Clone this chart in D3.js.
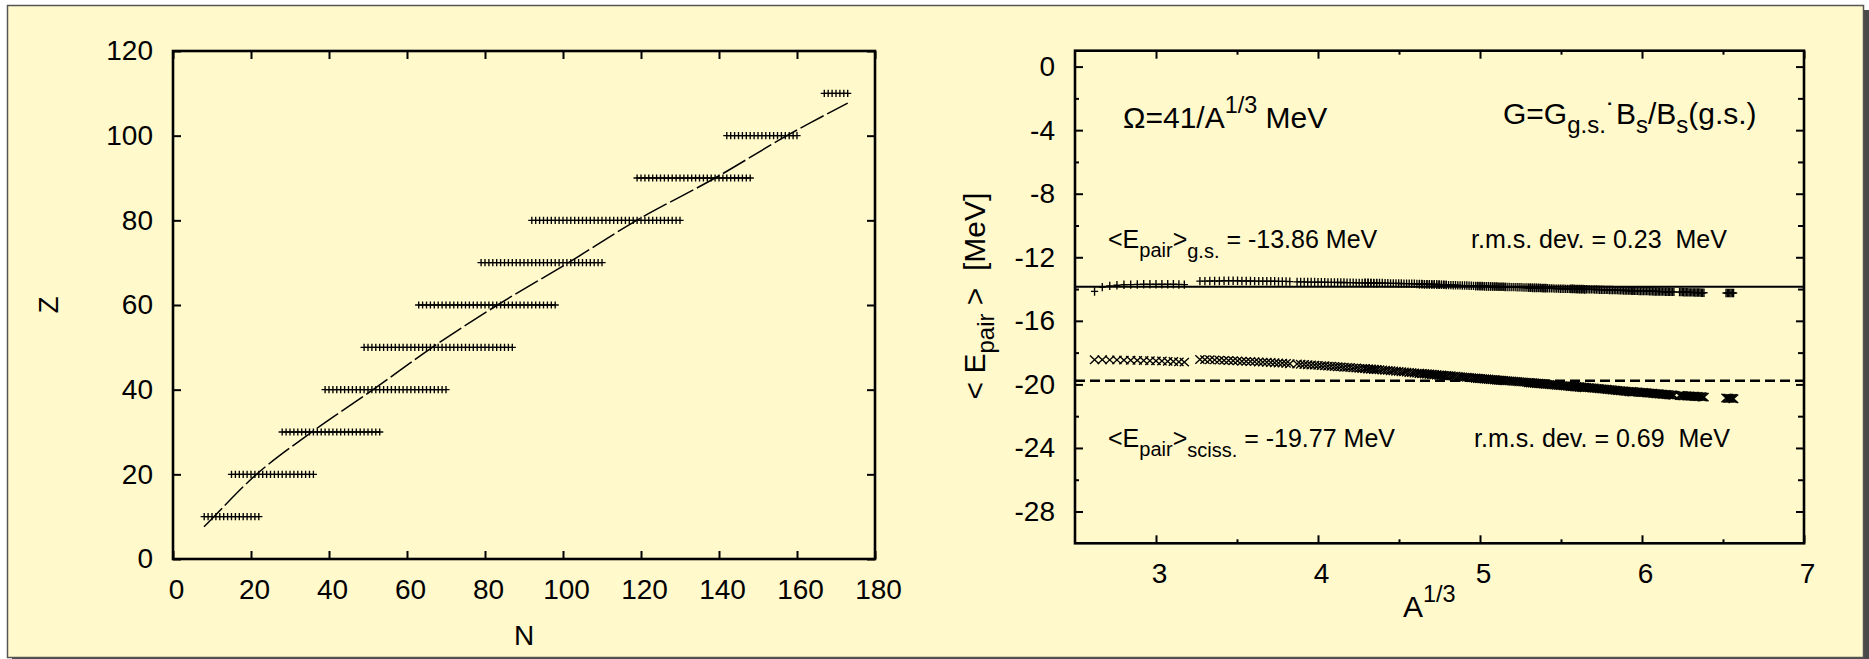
<!DOCTYPE html>
<html><head><meta charset="utf-8">
<script src="https://cdn.jsdelivr.net/npm/d3@7"></script>
<style>
html,body{margin:0;padding:0;background:#fff;}
svg{display:block;font-family:"Liberation Sans",Arial,Helvetica,sans-serif;}
text{white-space:pre;}
</style></head><body>
<svg id="chart" width="1869" height="659"></svg>
<script>
// ---------------- DATA ----------------
// Left panel: nuclei rows (proton number Z) and the neutron-number span of each row
const zRows  = [10, 20, 30, 40, 50, 60, 70, 80, 90, 100, 110];
const nFirst = [ 8, 15, 28, 39, 49, 63, 79, 92, 119, 142, 167];
const nLast  = [22, 36, 53, 70, 87, 98, 110, 130, 148, 160, 173];

// Left panel: beta-stability line
const stabN = [7.95, 10.5, 21.4, 35.6, 51.3, 66.5, 83.2, 101.4, 118.9, 139.0, 157.4, 173.0];
const stabZ = [7.6, 10, 20, 30, 40, 50, 60, 70, 80, 90, 100, 107.7];

// Right panel: <E_pair> at ground state, one value per nucleus (rows as above)
const epairGS_Z10 = [-14.15,-13.88,-13.80,-13.76,-13.73,-13.72,-13.71,-13.70,-13.70,-13.70,-13.70,-13.70,-13.70,-13.71,-13.72];
const epairGS_Z20 = [-13.50,-13.50,-13.49,-13.49,-13.49,-13.48,-13.48,-13.48,-13.48,-13.49,-13.49,-13.49,-13.50,-13.50,-13.50,-13.51,-13.51,-13.51,-13.52,-13.52,-13.52,-13.53];
const epairGS_Z30 = [-13.55,-13.55,-13.55,-13.56,-13.56,-13.56,-13.57,-13.57,-13.57,-13.58,-13.58,-13.58,-13.59,-13.59,-13.59,-13.60,-13.60,-13.60,-13.61,-13.61,-13.61,-13.62,-13.62,-13.62,-13.63,-13.63];
const epairGS_Z40 = [-13.60,-13.60,-13.61,-13.61,-13.62,-13.62,-13.62,-13.63,-13.63,-13.64,-13.64,-13.64,-13.65,-13.65,-13.66,-13.66,-13.66,-13.67,-13.67,-13.68,-13.68,-13.68,-13.69,-13.69,-13.70,-13.70,-13.70,-13.71,-13.71,-13.72,-13.72,-13.72];
const epairGS_Z50 = [-13.70,-13.70,-13.71,-13.71,-13.72,-13.72,-13.72,-13.73,-13.73,-13.74,-13.74,-13.75,-13.75,-13.75,-13.76,-13.76,-13.77,-13.77,-13.78,-13.78,-13.78,-13.79,-13.79,-13.80,-13.80,-13.80,-13.81,-13.81,-13.82,-13.82,-13.82,-13.83,-13.83,-13.84,-13.84,-13.85,-13.85,-13.85,-13.86];
const epairGS_Z60 = [-13.82,-13.82,-13.83,-13.83,-13.83,-13.84,-13.84,-13.84,-13.85,-13.85,-13.85,-13.86,-13.86,-13.86,-13.87,-13.87,-13.87,-13.88,-13.88,-13.88,-13.89,-13.89,-13.89,-13.90,-13.90,-13.90,-13.91,-13.91,-13.91,-13.92,-13.92,-13.92,-13.92,-13.93,-13.93,-13.93];
const epairGS_Z70 = [-13.92,-13.92,-13.93,-13.93,-13.93,-13.94,-13.94,-13.94,-13.95,-13.95,-13.95,-13.96,-13.96,-13.96,-13.97,-13.97,-13.97,-13.98,-13.98,-13.98,-13.99,-13.99,-13.99,-14.00,-14.00,-14.00,-14.01,-14.01,-14.01,-14.02,-14.02,-14.03];
const epairGS_Z80 = [-13.98,-13.98,-13.99,-13.99,-13.99,-14.00,-14.00,-14.00,-14.01,-14.01,-14.01,-14.02,-14.02,-14.02,-14.03,-14.03,-14.03,-14.04,-14.04,-14.04,-14.05,-14.05,-14.05,-14.06,-14.06,-14.06,-14.07,-14.07,-14.07,-14.08,-14.08,-14.08,-14.09,-14.09,-14.09,-14.10,-14.10,-14.10,-14.11];
const epairGS_Z90 = [-14.10,-14.10,-14.11,-14.11,-14.11,-14.12,-14.12,-14.12,-14.13,-14.13,-14.13,-14.13,-14.14,-14.14,-14.14,-14.15,-14.15,-14.15,-14.15,-14.16,-14.16,-14.16,-14.16,-14.17,-14.17,-14.17,-14.17,-14.18,-14.18,-14.18];
const epairGS_Z100 = [-14.19,-14.19,-14.19,-14.20,-14.20,-14.20,-14.20,-14.21,-14.21,-14.21,-14.21,-14.22,-14.22,-14.22,-14.22,-14.22,-14.23,-14.23,-14.23];
const epairGS_Z110 = [-14.25,-14.25,-14.25,-14.25,-14.25,-14.25,-14.25];

// Right panel: <E_pair> at scission, one value per nucleus
const epairSc_Z10 = [-18.45,-18.45,-18.46,-18.46,-18.47,-18.48,-18.49,-18.50,-18.51,-18.52,-18.53,-18.55,-18.56,-18.58,-18.60];
const epairSc_Z20 = [-18.43,-18.44,-18.45,-18.46,-18.47,-18.49,-18.50,-18.51,-18.52,-18.54,-18.55,-18.56,-18.57,-18.59,-18.60,-18.61,-18.62,-18.64,-18.65,-18.66,-18.68,-18.70];
const epairSc_Z30 = [-18.72,-18.73,-18.75,-18.76,-18.78,-18.79,-18.80,-18.82,-18.83,-18.85,-18.86,-18.87,-18.89,-18.90,-18.92,-18.93,-18.94,-18.96,-18.97,-18.99,-19.00,-19.01,-19.03,-19.04,-19.06,-19.07];
const epairSc_Z40 = [-19.00,-19.02,-19.03,-19.05,-19.06,-19.08,-19.09,-19.11,-19.12,-19.14,-19.15,-19.17,-19.18,-19.20,-19.21,-19.23,-19.25,-19.26,-19.28,-19.29,-19.31,-19.32,-19.34,-19.35,-19.37,-19.38,-19.40,-19.41,-19.43,-19.44,-19.46,-19.48];
const epairSc_Z50 = [-19.30,-19.31,-19.33,-19.34,-19.35,-19.36,-19.38,-19.39,-19.40,-19.41,-19.43,-19.44,-19.45,-19.46,-19.48,-19.49,-19.50,-19.51,-19.53,-19.54,-19.55,-19.56,-19.58,-19.59,-19.60,-19.61,-19.63,-19.64,-19.65,-19.66,-19.68,-19.69,-19.70,-19.71,-19.73,-19.74,-19.75,-19.76,-19.78];
const epairSc_Z60 = [-19.62,-19.63,-19.64,-19.65,-19.66,-19.67,-19.68,-19.69,-19.70,-19.71,-19.72,-19.73,-19.74,-19.75,-19.76,-19.77,-19.78,-19.79,-19.80,-19.81,-19.82,-19.83,-19.84,-19.85,-19.86,-19.87,-19.88,-19.89,-19.90,-19.91,-19.92,-19.93,-19.94,-19.95,-19.96,-19.98];
const epairSc_Z70 = [-19.90,-19.91,-19.92,-19.93,-19.94,-19.95,-19.96,-19.97,-19.98,-19.99,-20.00,-20.01,-20.02,-20.03,-20.04,-20.05,-20.06,-20.07,-20.08,-20.09,-20.10,-20.11,-20.12,-20.13,-20.14,-20.15,-20.16,-20.17,-20.18,-20.19,-20.20,-20.22];
const epairSc_Z80 = [-20.10,-20.11,-20.12,-20.13,-20.14,-20.15,-20.16,-20.17,-20.18,-20.19,-20.20,-20.21,-20.22,-20.23,-20.24,-20.25,-20.26,-20.27,-20.28,-20.29,-20.30,-20.31,-20.32,-20.33,-20.34,-20.35,-20.36,-20.37,-20.38,-20.39,-20.40,-20.41,-20.42,-20.43,-20.44,-20.45,-20.46,-20.47,-20.48];
const epairSc_Z90 = [-20.45,-20.46,-20.47,-20.47,-20.48,-20.49,-20.50,-20.51,-20.51,-20.52,-20.53,-20.54,-20.55,-20.55,-20.56,-20.57,-20.58,-20.59,-20.59,-20.60,-20.61,-20.62,-20.63,-20.63,-20.64,-20.65,-20.66,-20.67,-20.67,-20.68];
const epairSc_Z100 = [-20.70,-20.70,-20.71,-20.71,-20.72,-20.72,-20.73,-20.73,-20.74,-20.74,-20.75,-20.75,-20.76,-20.76,-20.77,-20.77,-20.78,-20.79,-20.80];
const epairSc_Z110 = [-20.86,-20.87,-20.87,-20.88,-20.88,-20.89,-20.90];

const meanGS = -13.86;
const meanSciss = -19.77;

// Tick values / labels
const xTicksL = [0, 20, 40, 60, 80, 100, 120, 140, 160, 180];
const yTicksL = [0, 20, 40, 60, 80, 100, 120];
const xTicksR = [3, 4, 5, 6, 7];
const xMinorR = [3.5, 4.5, 5.5, 6.5];
const yTicksR = [0, -4, -8, -12, -16, -20, -24, -28];
const yMinorR = [-2, -6, -10, -14, -18, -22, -26];

// ---------------- DRAW ----------------
const svg = d3.select('#chart');
const FONT = '"Liberation Sans",Arial,Helvetica,sans-serif';

// panel background + shadow
svg.append('rect').attr('x', 12).attr('y', 10).attr('width', 1857).attr('height', 652).attr('fill', '#4a4a4a');
svg.append('rect').attr('x', 7.5).attr('y', 5.5).attr('width', 1856).attr('height', 652)
  .attr('fill', '#FFF9CC').attr('stroke', '#555').attr('stroke-width', 1.5);

const gsRows = [epairGS_Z10, epairGS_Z20, epairGS_Z30, epairGS_Z40, epairGS_Z50, epairGS_Z60, epairGS_Z70, epairGS_Z80, epairGS_Z90, epairGS_Z100, epairGS_Z110];
const scRows = [epairSc_Z10, epairSc_Z20, epairSc_Z30, epairSc_Z40, epairSc_Z50, epairSc_Z60, epairSc_Z70, epairSc_Z80, epairSc_Z90, epairSc_Z100, epairSc_Z110];

const nuclei = [];
zRows.forEach((z, i) => {
  d3.range(nFirst[i], nLast[i] + 1).forEach((n, j) => {
    nuclei.push({ n, z, gs: gsRows[i][j], sc: scRows[i][j] });
  });
});

function styleAxis(g, showText, dx) {
  g.select('.domain').remove();
  g.attr('font-size', 28).attr('font-family', FONT);
  g.selectAll('.tick line').attr('stroke', '#000').attr('stroke-width', 2);
  g.selectAll('.tick text').attr('fill', '#000').attr('dx', dx || 0);
  if (!showText) g.selectAll('.tick text').remove();
}

function rich(parent, x, y, size, parts, anchor) {
  const t = parent.append('text').attr('x', x).attr('y', y)
    .attr('font-size', size).attr('font-family', FONT).attr('fill', '#000')
    .attr('text-anchor', anchor || 'start');
  let cur = 0;
  parts.forEach(p => {
    let off = 0, fs = size;
    if (p.sub) { off = p.subOff != null ? p.subOff : size * 0.34; fs = size * 0.8; }
    if (p.sup) { off = -size * 0.5; fs = size * 0.78; }
    t.append('tspan').attr('dy', off - cur).attr('font-size', fs).text(p.t);
    cur = off;
  });
  return t;
}

// ---------- Left panel ----------
const xL = d3.scaleLinear().domain([0, 180]).range([173, 875]);
const yL = d3.scaleLinear().domain([0, 120]).range([559, 51]);
const gL = svg.append('g');

gL.append('g').attr('transform', `translate(0,${yL(0)})`)
  .call(d3.axisBottom(xL).tickValues(xTicksL).tickSize(-8).tickPadding(20).tickFormat(d => String(d)))
  .call(g => styleAxis(g, true, 3));
gL.append('g').attr('transform', `translate(0,${yL(120)})`)
  .call(d3.axisTop(xL).tickValues(xTicksL).tickSize(-8))
  .call(g => styleAxis(g, false));
gL.append('g').attr('transform', `translate(${xL(0)},0)`)
  .call(d3.axisLeft(yL).tickValues(yTicksL).tickSize(-8).tickPadding(20).tickFormat(d => String(d)))
  .call(g => styleAxis(g, true));
gL.append('g').attr('transform', `translate(${xL(180)},0)`)
  .call(d3.axisRight(yL).tickValues(yTicksL).tickSize(-8))
  .call(g => styleAxis(g, false));

// stability line
const stab = stabN.map((n, i) => [n, stabZ[i]]);
gL.append('path').datum(stab)
  .attr('d', d3.line().x(d => xL(d[0])).y(d => yL(d[1])).curve(d3.curveCatmullRom))
  .attr('fill', 'none').attr('stroke', '#000').attr('stroke-width', 1.5)
  .attr('stroke-dasharray', '26,4');

// nuclei markers (+)
const plusL = 'M-3.6,0H3.6M0,-3.6V3.6';
gL.append('g').selectAll('path').data(nuclei).join('path')
  .attr('transform', d => `translate(${xL(d.n)},${yL(d.z)})`)
  .attr('d', plusL).attr('stroke', '#000').attr('stroke-width', 1.35).attr('fill', 'none');

gL.append('rect').attr('x', xL(0)).attr('y', yL(120)).attr('width', xL(180) - xL(0)).attr('height', yL(0) - yL(120))
  .attr('fill', 'none').attr('stroke', '#000').attr('stroke-width', 2.6);

gL.append('text').attr('x', (xL(0) + xL(180)) / 2).attr('y', 645).attr('text-anchor', 'middle')
  .attr('font-size', 28).attr('font-family', FONT).text('N');
gL.append('text').attr('transform', 'translate(58,305) rotate(-90)').attr('text-anchor', 'middle')
  .attr('font-size', 28).attr('font-family', FONT).text('Z');

// ---------- Right panel ----------
const xR = d3.scaleLinear().domain([2.5, 7]).range([1075, 1804]);
const yR = d3.scaleLinear().domain([-30, 1]).range([543.3, 50.7]);
const gR = svg.append('g');

gR.append('g').attr('transform', `translate(0,${yR(-30)})`)
  .call(d3.axisBottom(xR).tickValues(xTicksR).tickSize(-8).tickPadding(20).tickFormat(d => String(d)))
  .call(g => styleAxis(g, true, 3));
gR.append('g').attr('transform', `translate(0,${yR(-30)})`)
  .call(d3.axisBottom(xR).tickValues(xMinorR).tickSize(-4))
  .call(g => styleAxis(g, false));
gR.append('g').attr('transform', `translate(0,${yR(1)})`)
  .call(d3.axisTop(xR).tickValues(xTicksR).tickSize(-8))
  .call(g => styleAxis(g, false));
gR.append('g').attr('transform', `translate(0,${yR(1)})`)
  .call(d3.axisTop(xR).tickValues(xMinorR).tickSize(-4))
  .call(g => styleAxis(g, false));
gR.append('g').attr('transform', `translate(${xR(2.5)},0)`)
  .call(d3.axisLeft(yR).tickValues(yTicksR).tickSize(-8).tickPadding(20).tickFormat(d => String(d)))
  .call(g => styleAxis(g, true));
gR.append('g').attr('transform', `translate(${xR(2.5)},0)`)
  .call(d3.axisLeft(yR).tickValues(yMinorR).tickSize(-4))
  .call(g => styleAxis(g, false));
gR.append('g').attr('transform', `translate(${xR(7)},0)`)
  .call(d3.axisRight(yR).tickValues(yTicksR).tickSize(-8))
  .call(g => styleAxis(g, false));
gR.append('g').attr('transform', `translate(${xR(7)},0)`)
  .call(d3.axisRight(yR).tickValues(yMinorR).tickSize(-6))
  .call(g => styleAxis(g, false));

// mean lines
gR.append('line').attr('x1', xR(2.5)).attr('x2', xR(7)).attr('y1', yR(meanGS)).attr('y2', yR(meanGS))
  .attr('stroke', '#000').attr('stroke-width', 2);
gR.append('line').attr('x1', xR(2.5)).attr('x2', xR(7)).attr('y1', yR(meanSciss)).attr('y2', yR(meanSciss))
  .attr('stroke', '#000').attr('stroke-width', 2.4).attr('stroke-dasharray', '10,5');

// markers
const plusR = 'M-3.6,0H3.6M0,-4.2V4.2';
const crossR = 'M-4.6,-4.2L4.6,4.2M-4.6,4.2L4.6,-4.2';
const A13 = d => Math.cbrt(d.n + d.z);
gR.append('g').selectAll('path').data(nuclei).join('path')
  .attr('transform', d => `translate(${xR(A13(d))},${yR(d.gs)})`)
  .attr('d', plusR).attr('stroke', '#000').attr('stroke-width', 1.35).attr('fill', 'none');
gR.append('g').selectAll('path').data(nuclei).join('path')
  .attr('transform', d => `translate(${xR(A13(d))},${yR(d.sc)})`)
  .attr('d', crossR).attr('stroke', '#000').attr('stroke-width', 1.35).attr('fill', 'none');

gR.append('rect').attr('x', xR(2.5)).attr('y', yR(1)).attr('width', xR(7) - xR(2.5)).attr('height', yR(-30) - yR(1))
  .attr('fill', 'none').attr('stroke', '#000').attr('stroke-width', 2.6);

// axis titles
rich(gR, 1403, 616.7, 30, [{ t: 'A' }, { t: '1/3', sup: true }]);
const yl = gR.append('g').attr('transform', 'translate(985,296) rotate(-90)');
rich(yl, 0, 0, 30, [{ t: '< E' }, { t: 'pair', sub: true, subOff: 9 }, { t: ' >  [MeV]' }], 'middle');

// annotations
rich(gR, 1123, 127.7, 30, [{ t: 'Ω=41/A' }, { t: '1/3', sup: true }, { t: ' MeV' }]);
rich(gR, 1503, 124.3, 30, [{ t: 'G=G' }, { t: 'g.s.', sub: true, subOff: 9 }, { t: '˙B' }, { t: 's', sub: true, subOff: 9 }, { t: '/B' }, { t: 's', sub: true, subOff: 9 }, { t: '(g.s.)' }]);
rich(gR, 1108, 248.3, 25, [{ t: '<E' }, { t: 'pair', sub: true, subOff: 8.5 }, { t: '>' }, { t: 'g.s.', sub: true, subOff: 9.5 }, { t: ' = -13.86 MeV' }]);
rich(gR, 1471, 248.3, 25, [{ t: 'r.m.s. dev. = 0.23  MeV' }]);
rich(gR, 1108, 447.3, 25, [{ t: '<E' }, { t: 'pair', sub: true, subOff: 8.5 }, { t: '>' }, { t: 'sciss.', sub: true, subOff: 9.5 }, { t: ' = -19.77 MeV' }]);
rich(gR, 1474, 447.3, 25, [{ t: 'r.m.s. dev. = 0.69  MeV' }]);
</script>
</body></html>
